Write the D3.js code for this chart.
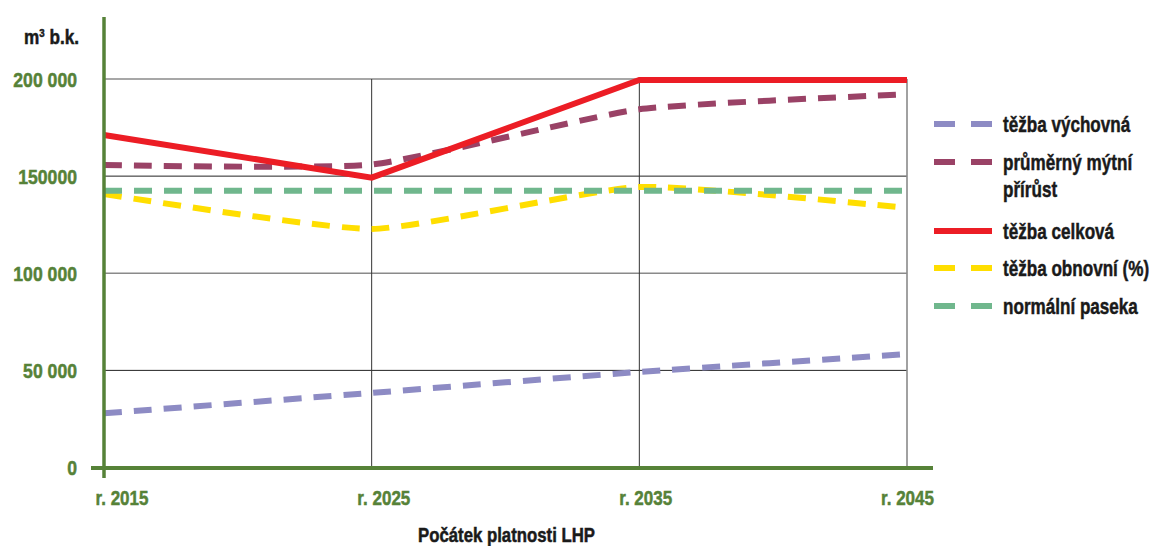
<!DOCTYPE html>
<html>
<head>
<meta charset="utf-8">
<script src="https://cdn.jsdelivr.net/npm/d3@7"></script>
<style>
  body { margin: 0; background: #fff; }
  svg text { font-family: "Liberation Sans", Arial, sans-serif; font-weight: bold; stroke-width: 0.5px; }
</style>
</head>
<body>
<svg id="chart" width="1157" height="546"></svg>
<script>
// Data
var years = ["r. 2015", "r. 2025", "r. 2035", "r. 2045"];
var yTicks = [0, 50000, 100000, 150000, 200000];
var yTickLabels = ["0", "50 000", "100 000", "150000", "200 000"];

var tezbaVychovna = [27900, 38400, 49200, 58400];
var prumernyPrirust = [155700, 156000, 184400, 192100];
var tezbaCelkova = [171200, 149200, 199500, 199500];
var tezbaObnovni = [140800, 122800, 144400, 133600];
var normalniPaseka = [142500, 142500, 142500, 142500];

var smooth = d3.curveCardinal.tension(0.5);
var series = [
    {name: ["těžba výchovná"], values: tezbaVychovna, color: "#8d8bc4", dash: true, curve: smooth},
    {name: ["průměrný mýtní", "přírůst"], values: prumernyPrirust, color: "#9a4266", dash: true, curve: smooth},
    {name: ["těžba celková"], values: tezbaCelkova, color: "#ec1d25", dash: false, curve: d3.curveLinear},
    {name: ["těžba obnovní (%)"], values: tezbaObnovni, color: "#ffde00", dash: true, curve: smooth},
    {name: ["normální paseka"], values: normalniPaseka, color: "#70b78d", dash: true, curve: d3.curveLinear}
];

var svg = d3.select("#chart");
var axisGreen = "#568238";
var ink = "#1a1a1a";

// Scales
var x = d3.scalePoint().domain(years).range([104, 907]);
var xLabel = d3.scalePoint().domain(years).range([122, 907.5]);
var y = d3.scaleLinear().domain([0, 200000]).range([467.5, 79]);

// condensed text helper (no narrow bold font installed, so squeeze horizontally)
function ctext(parent, px, py, size, squeeze, anchor, fill) {
    return parent.append("g")
        .attr("transform", "translate(" + px + "," + py + ") scale(" + squeeze + ",1)")
        .append("text")
        .attr("text-anchor", anchor)
        .attr("fill", fill)
        .attr("stroke", fill)
        .style("font-size", size + "px");
}

// Grid
var grid = svg.append("g");
grid.selectAll(".hgrid")
    .data(yTicks.filter(function (d) { return d > 0; }))
    .enter().append("line")
    .attr("x1", 104).attr("x2", 907)
    .attr("y1", function (d) { return y(d); })
    .attr("y2", function (d) { return y(d); })
    .attr("stroke", function (d) { return d % 100000 === 0 ? "#8a8a8a" : "#222"; })
    .attr("stroke-width", function (d) { return d % 100000 === 0 ? 1.6 : 1; });
grid.selectAll(".vgrid")
    .data(years.slice(1))
    .enter().append("line")
    .attr("x1", function (d) { return x(d); })
    .attr("x2", function (d) { return x(d); })
    .attr("y1", y(200000)).attr("y2", y(0))
    .attr("stroke", function (d, i) { return i === 2 ? "#8a8a8a" : "#333"; })
    .attr("stroke-width", function (d, i) { return i === 2 ? 1.6 : 1; });

// Lines
var lines = svg.append("g");
series.forEach(function (s) {
    var line = d3.line()
        .x(function (d, i) { return x(years[i]); })
        .y(function (d) { return y(d); })
        .curve(s.curve);
    lines.append("path")
        .datum(s.values)
        .attr("d", line)
        .attr("fill", "none")
        .attr("stroke", s.color)
        .attr("stroke-width", 6)
        .attr("stroke-dasharray", s.dash ? "18,12" : null);
});

// Axes
svg.append("line")
    .attr("x1", 104).attr("x2", 104)
    .attr("y1", 17).attr("y2", 478)
    .attr("stroke", axisGreen).attr("stroke-width", 3.5);
svg.append("line")
    .attr("x1", 91).attr("x2", 933)
    .attr("y1", y(0) + 0.5).attr("y2", y(0) + 0.5)
    .attr("stroke", axisGreen).attr("stroke-width", 4);

yTicks.forEach(function (d, i) {
    ctext(svg, 77, y(d) + 7.5, 21, 0.84, "end", axisGreen).text(yTickLabels[i]);
});
years.forEach(function (d) {
    ctext(svg, xLabel(d), 505, 21, 0.81, "middle", axisGreen).text(d);
});

// Axis titles
var unit = ctext(svg, 79, 44, 19.5, 0.88, "end", ink);
unit.append("tspan").text("m");
unit.append("tspan").attr("dy", -7).style("font-size", "11px").text("3");
unit.append("tspan").attr("dy", 7).text(" b.k.");
ctext(svg, 506.5, 542, 19.5, 0.86, "middle", ink).text("Počátek platnosti LHP");

// Legend
var legendY = [124, 162, 231, 268, 306];
var legend = svg.append("g");
series.forEach(function (s, i) {
    var g = legend.append("g").attr("transform", "translate(0," + legendY[i] + ")");
    g.append("line")
        .attr("x1", 934).attr("x2", 992)
        .attr("stroke", s.color)
        .attr("stroke-width", 6)
        .attr("stroke-dasharray", s.dash ? "21,16" : null);
    var t = ctext(g, 1003, 7.5, 22.5, 0.76, "start", ink);
    s.name.forEach(function (n, j) {
        t.append("tspan").attr("x", 0).attr("dy", j === 0 ? 0 : 28).text(n);
    });
});
</script>
</body>
</html>
